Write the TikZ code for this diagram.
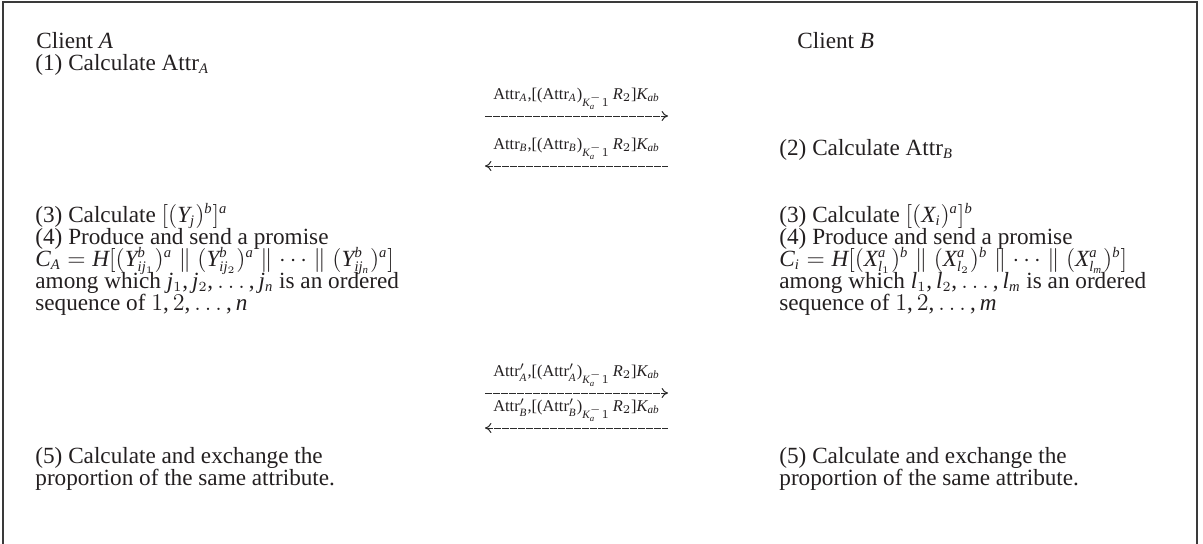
\documentclass[tikz,border=0pt]{standalone}
\usepackage{fontspec}
\setmainfont{Liberation Serif}
% math letters and digits from the text font
\DeclareSymbolFont{ltrs}{TU}{\rmdefault}{m}{it}
\DeclareSymbolFont{dgts}{TU}{\rmdefault}{m}{n}
\makeatletter
\@tfor\ch:=abcdefghijklmnopqrstuvwxyzABCDEFGHIJKLMNOPQRSTUVWXYZ\do{%
  \edef\next{\noexpand\DeclareMathSymbol{\ch}{\noexpand\mathalpha}{ltrs}{`\ch}}\next}
\@tfor\ch:=0123456789\do{%
  \edef\next{\noexpand\DeclareMathSymbol{\ch}{\noexpand\mathalpha}{dgts}{`\ch}}\next}
\makeatother
\DeclareMathSymbol{(}{\mathopen}{dgts}{`(}
\DeclareMathSymbol{)}{\mathclose}{dgts}{`)}
\DeclareMathSymbol{[}{\mathopen}{dgts}{`[}
\DeclareMathSymbol{]}{\mathclose}{dgts}{`]}
\DeclareMathSymbol{,}{\mathpunct}{dgts}{`,}
\DeclareMathSizes{11.6}{11.6}{7.3}{5.4}
\DeclareMathSizes{8.2}{8.2}{5.6}{4.4}
\usepackage{tikz}
\usetikzlibrary{arrows.meta, positioning}
\definecolor{txtcol}{HTML}{231F20}
\definecolor{frameline}{HTML}{3A3A3A}
\definecolor{msgline}{HTML}{2B2B2B}
\tikzset{
  txt/.style   = {anchor=base west, inner sep=0pt, text=txtcol,
                  font=\fontsize{11.6}{12}\selectfont},
  lbl/.style   = {anchor=base, inner sep=0pt, yshift=8.2pt, text=txtcol,
                  font=\fontsize{8.2}{9}\selectfont},
  msg/.style   = {draw=msgline, line width=0.5pt, dash pattern=on 3.5pt off 0.5pt},
  rmsg/.style  = {msg, -{To[length=3.2pt, width=5pt]}},
  lmsg/.style  = {msg, {To[length=3.2pt, width=5pt]}-},
  frame/.style = {draw=frameline, line width=0.7pt},
}

\begin{document}
\begin{tikzpicture}[x=0.5pt, y=-0.5pt]
        \useasboundingbox (0,0) rectangle (1203,543);
        \draw[frame] (3,560) -- (3,2) -- (1197,2) -- (1197,560);

        % client A
        \node[txt] (ca)   at (36,48)  {Client $A$};
        \node[txt] (a1)   at (35,70)  {(1) Calculate Attr$_A$};
        \node[txt] (a3)   at (35,222) {(3) Calculate $[(Y_j)^b]^a$};
        \node[txt] (a4)   at (35,244) {(4) Produce and send a promise};
        \node[txt] (acom) at (35,266) {$C_A = H[(Y^b_{ij_1})^a \parallel (Y^b_{ij_2})^a \parallel \cdots \parallel (Y^b_{ij_n})^a]$};
        \node[txt] (aord) at (35,288) {among which $j_1, j_2, \ldots, j_n$ is an ordered};
        \node[txt] (aseq) at (35,310) {sequence of $1, 2, \ldots, n$};
        \node[txt] (a5)   at (35,463) {(5) Calculate and exchange the};
        \node[txt] (a5b)  at (35,485) {proportion of the same attribute.};

        % client B
        \node[txt] (cb)   at (797,48)  {Client $B$};
        \node[txt] (b2)   at (779,155) {(2) Calculate Attr$_B$};
        \node[txt] (b3)   at (779,222) {(3) Calculate $[(X_i)^a]^b$};
        \node[txt] (b4)   at (779,244) {(4) Produce and send a promise};
        \node[txt] (bcom) at (779,266) {$C_i = H[(X^a_{l_1})^b \parallel (X^a_{l_2})^b \parallel \cdots \parallel (X^a_{l_m})^b]$};
        \node[txt] (bord) at (779,288) {among which $l_1, l_2, \ldots, l_m$ is an ordered};
        \node[txt] (bseq) at (779,310) {sequence of $1, 2, \ldots, m$};
        \node[txt] (b5)   at (779,463) {(5) Calculate and exchange the};
        \node[txt] (b5b)  at (779,485) {proportion of the same attribute.};

        % message ends
        \coordinate (m1l) at (485,116);  \coordinate (m1r) at (668,116);
        \coordinate (m2l) at (485,166);  \coordinate (m2r) at (668,166);
        \coordinate (m3l) at (485,393);  \coordinate (m3r) at (668,393);
        \coordinate (m4l) at (485,428);  \coordinate (m4r) at (668,428);

        \draw[rmsg] (m1l) -- node[lbl] (t1) {Attr$_A$,[(Attr$_A$)$_{K_a^{-}1}\,R_2$]$K_{ab}$} (m1r);
        \draw[lmsg] (m2l) -- node[lbl] (t2) {Attr$_B$,[(Attr$_B$)$_{K_a^{-}1}\,R_2$]$K_{ab}$} (m2r);
        \draw[rmsg] (m3l) -- node[lbl] (t3) {Attr$'_A$,[(Attr$'_A$)$_{K_a^{-}1}\,R_2$]$K_{ab}$} (m3r);
        \draw[lmsg] (m4l) -- node[lbl] (t4) {Attr$'_B$,[(Attr$'_B$)$_{K_a^{-}1}\,R_2$]$K_{ab}$} (m4r);
    \end{tikzpicture}
\end{document}
